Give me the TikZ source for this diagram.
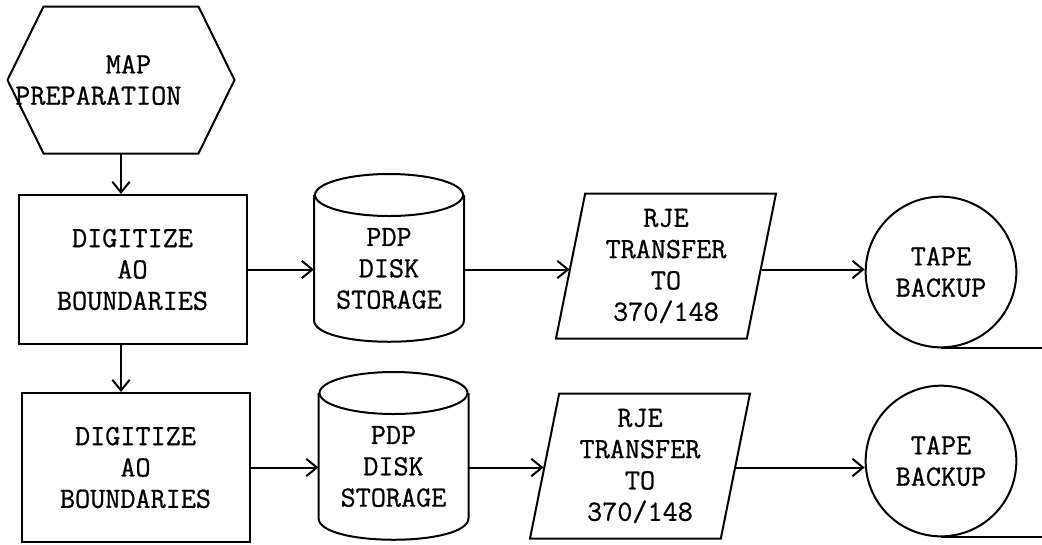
\documentclass[tikz,border=0pt]{standalone}
\usepackage{fontspec}
\newfontfamily\typer{Latin Modern Mono}[FakeBold=0.8]
\usetikzlibrary{arrows.meta, shapes.geometric}

\begin{document}
\begin{tikzpicture}[x=0.75pt, y=-0.75pt, line width=1.5pt,
  font=\typer\fontsize{22}{23.5}\selectfont,
  >={Straight Barb[length=8pt,width=13pt]},
  process/.style={draw, rectangle, align=center, minimum width=171pt, minimum height=111.75pt},
  disk/.style={rectangle, align=center, minimum width=111pt, minimum height=108.75pt, inner sep=0pt},
  rje/.style={draw, trapezium, trapezium left angle=76, trapezium right angle=104,
    trapezium stretches body, align=center, minimum width=165pt, minimum height=108.75pt, inner sep=1pt},
  tape/.style={draw, circle, align=center, minimum size=113pt, inner sep=0pt}]

\useasboundingbox (0,0) rectangle (1042,544);

% nodes
\node (prep) [align=left, minimum height=108.75pt, inner sep=0pt] at (121,80)
  {\hphantom{PREPAR}MAP\\PREPARATION\hphantom{MMM}};

\node (box1) [process] at (132.5,269.5) {DIGITIZE\\AO\\BOUNDARIES};
\node (cyl1) [disk] at (389,268.5) {PDP\\DISK\\STORAGE};
\node (par1) [rje] at (666,266) {RJE\\TRANSFER\\TO\\370/148};
\node (tape1) [tape] at (941,272) {TAPE\\BACKUP};

\node (box2) [process] at (135.5,467.5) {DIGITIZE\\AO\\BOUNDARIES};
\node (cyl2) [disk] at (393.5,466.5) {PDP\\DISK\\STORAGE};
\node (par2) [rje] at (640,466) {RJE\\TRANSFER\\TO\\370/148};
\node (tape2) [tape] at (941,461) {TAPE\\BACKUP};

% hexagon
\draw ([shift={(-77.5,0)}]prep.north) -- ([shift={(77.5,0)}]prep.north)
  -- ([shift={(113.5,0)}]prep.center) -- ([shift={(77.5,0)}]prep.south)
  -- ([shift={(-77.5,0)}]prep.south) -- ([shift={(-113.5,0)}]prep.center) -- cycle;

% disks
\foreach \c in {cyl1,cyl2} {
  \draw (\c.north west) -- ([shift={(0,-22)}]\c.south west)
    .. controls ([shift={(0,7)}]\c.south west) and ([shift={(0,7)}]\c.south east)
    .. ([shift={(0,-22)}]\c.south east) -- (\c.north east);
  \draw (\c.north) ellipse [x radius=74, y radius=21];
}

% flow
\draw[->] (prep.south) -- (prep.south |- box1.north);
\draw[->] (box1.south -| prep.south) -- (box2.north -| prep.south);

\foreach \b/\c/\p/\t in {box1/cyl1/par1/tape1, box2/cyl2/par2/tape2} {
  \draw[->] (\b.east) -- (\b.east -| \c.west);
  \draw[->] (\c.east |- \b.east) -- (\b.east -| \p.west);
  \draw[->] (\p.east |- \b.east) -- (\b.east -| \t.west);
  \draw (\t.south) -- ++(101,0);
}

\end{tikzpicture}
\end{document}
